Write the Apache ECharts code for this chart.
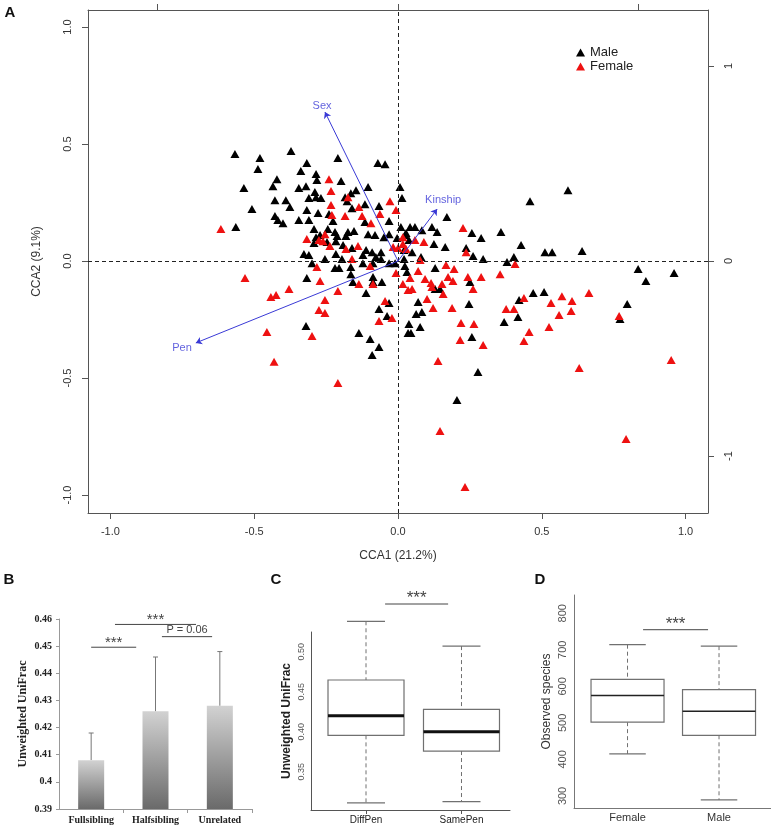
<!DOCTYPE html>
<html><head><meta charset="utf-8">
<script src="https://cdn.jsdelivr.net/npm/echarts@6/dist/echarts.min.js"></script>
<style>html,body{margin:0;padding:0;background:#fff}#c{width:771px;height:830px}</style>
</head><body><div id="c"></div>
<script>
// ---------- Panel A data ----------
const malePoints = [
[-0.567,0.457],[-0.480,0.440],[-0.372,0.470],[-0.487,0.393],[-0.317,0.419],[-0.209,0.440],[-0.070,0.419],[-0.045,0.414],[-0.338,0.385],[-0.285,0.372],
[-0.421,0.350],[-0.282,0.346],[-0.198,0.342],[-0.536,0.312],[-0.435,0.320],[-0.345,0.312],[-0.320,0.320],[-0.289,0.295],[-0.104,0.316],[0.007,0.316],
[-0.164,0.290],[-0.146,0.303],[-0.428,0.260],[-0.390,0.260],[-0.310,0.269],[-0.285,0.273],[-0.268,0.269],[-0.184,0.273],[-0.177,0.256],[0.014,0.269],
[-0.376,0.231],[-0.508,0.222],[-0.317,0.218],[-0.278,0.205],[-0.160,0.226],[-0.115,0.243],[-0.066,0.235],[-0.428,0.192],[-0.418,0.175],[-0.400,0.162],
[-0.345,0.175],[-0.310,0.175],[-0.240,0.201],[-0.226,0.171],[-0.115,0.167],[-0.031,0.171],[-0.564,0.145],[-0.292,0.137],[-0.244,0.137],[-0.219,0.124],
[-0.174,0.124],[-0.153,0.128],[-0.104,0.115],[-0.080,0.111],[0.010,0.145],[-0.285,0.102],[-0.271,0.111],[-0.212,0.107],[-0.181,0.107],[-0.049,0.102],
[-0.292,0.077],[-0.247,0.081],[-0.216,0.085],[-0.191,0.068],[-0.160,0.056],[-0.090,0.038],[-0.059,0.038],[-0.111,0.047],[-0.327,0.030],[-0.310,0.026],
[-0.254,0.009],[-0.216,0.030],[-0.195,0.009],[-0.122,0.026],[-0.077,0.017],[-0.059,0.009],[0.021,0.009],
[-0.299,-0.009],[-0.219,-0.030],[-0.205,-0.030],[-0.164,-0.026],[-0.164,-0.056],[-0.122,-0.009],[-0.087,-0.009],[-0.031,-0.009],[-0.010,-0.009],[0.024,-0.021],
[-0.317,-0.073],[-0.157,-0.090],[-0.087,-0.068],[-0.087,-0.090],[-0.056,-0.090],[-0.111,-0.137],[-0.031,-0.179],[-0.066,-0.205],[-0.038,-0.235],[-0.320,-0.278],
[-0.136,-0.308],[-0.097,-0.333],[-0.066,-0.367],[-0.090,-0.402],[0.035,-0.308],
[0.591,0.303],[0.459,0.256],[0.170,0.188],[0.118,0.145],[0.136,0.124],[0.042,0.145],[0.059,0.145],[0.083,0.132],[0.028,0.120],[0.257,0.120],
[0.289,0.098],[0.358,0.124],[0.125,0.073],[0.164,0.060],[0.038,0.090],[0.237,0.056],[0.261,0.021],[0.428,0.068],[0.511,0.038],[0.536,0.038],
[0.640,0.043],[0.049,0.038],[0.021,0.047],[0.080,0.017],[0.296,0.009],[0.379,-0.004],[0.403,0.017],[0.129,-0.030],
[0.031,-0.047],[0.250,-0.090],[0.129,-0.120],[0.146,-0.120],[0.070,-0.175],[0.247,-0.184],[0.063,-0.226],[0.083,-0.218],[0.038,-0.269],[0.077,-0.282],
[0.045,-0.308],[0.257,-0.325],[0.278,-0.474],[0.421,-0.167],[0.470,-0.137],[0.508,-0.132],[0.369,-0.261],[0.417,-0.239],
[0.835,-0.034],[0.960,-0.051],[0.862,-0.085],[0.797,-0.184],[0.772,-0.248],[0.205,-0.594],
[-0.031,0.115],[-0.003,0.098],[0.024,0.111]
];
const femalePoints = [
[-0.616,0.137],[-0.240,0.350],[-0.233,0.299],[-0.233,0.239],[-0.230,0.197],[-0.184,0.192],[-0.136,0.231],[-0.125,0.192],[-0.094,0.162],[-0.063,0.201],
[-0.028,0.256],[-0.007,0.218],[-0.317,0.094],[-0.275,0.090],[-0.261,0.085],[-0.237,0.064],[-0.181,0.051],[-0.139,0.064],[-0.254,0.115],[0.017,0.102],
[-0.017,0.060],[0.000,0.056],[0.028,0.051],[-0.160,0.009],[-0.174,0.273],[-0.097,-0.021],[-0.282,-0.026],
[-0.532,-0.073],[-0.271,-0.085],[-0.379,-0.120],[-0.442,-0.154],[-0.424,-0.145],[-0.209,-0.128],[-0.136,-0.098],[-0.087,-0.098],[-0.254,-0.167],[-0.275,-0.209],
[-0.254,-0.222],[-0.456,-0.303],[-0.299,-0.320],[-0.431,-0.431],[-0.209,-0.521],[-0.007,-0.051],[-0.045,-0.171],[-0.066,-0.256],[-0.021,-0.244],[0.017,-0.098],
[0.226,0.141],[0.059,0.090],[0.090,0.081],[0.017,0.073],[0.237,0.038],[0.167,-0.017],[0.407,-0.013],[0.077,0.004],[0.195,-0.034],
[0.070,-0.043],[0.042,-0.073],[0.094,-0.077],[0.115,-0.094],[0.118,-0.111],[0.153,-0.098],[0.174,-0.068],[0.191,-0.085],[0.243,-0.068],[0.289,-0.068],
[0.355,-0.056],[0.035,-0.124],[0.049,-0.120],[0.157,-0.141],[0.261,-0.120],[0.101,-0.162],[0.122,-0.201],[0.188,-0.201],[0.438,-0.158],[0.376,-0.205],
[0.403,-0.205],[0.219,-0.265],[0.264,-0.269],[0.216,-0.338],[0.296,-0.359],[0.139,-0.427],[0.456,-0.303],[0.438,-0.342],[0.525,-0.282],[0.532,-0.179],
[0.570,-0.150],[0.605,-0.171],[0.560,-0.231],[0.602,-0.214],[0.664,-0.137],[0.630,-0.457],[0.769,-0.235],[0.950,-0.423],[0.793,-0.761],[0.146,-0.726],[0.233,-0.966]
];
const biplotNames = ['Sex', 'Kinship', 'Pen'];
const biplotTips = [[-0.254, 0.637], [0.136, 0.222], [-0.703, -0.350]];
const biplotLabelPos = [[-0.264, 0.664], [0.157, 0.262], [-0.751, -0.372]];
const ticksA = [-1, -0.5, 0, 0.5, 1];
const ticksSecondary = [-1, 0, 1];

// ---------- Panel B data ----------
const bCategories = ['Fullsibling', 'Halfsibling', 'Unrelated'];
const bMeans = [0.408, 0.426, 0.428];
const bUpper = [0.418, 0.446, 0.448];
const bTicks = [0.39, 0.40, 0.41, 0.42, 0.43, 0.44, 0.45, 0.46];
const bSigLines = [[1.0, 1.70, 0.4496], [1.37, 2.63, 0.4580], [2.10, 2.88, 0.4535]];
const bSigLabels = ['***', '***', 'P = 0.06'];

// ---------- Panel C data ----------
const cCategories = ['DiffPen', 'SamePen'];
const cBoxes = [[0.311, 0.3954, 0.420, 0.4646, 0.538], [0.3125, 0.3758, 0.400, 0.428, 0.507]];
const cTicks = [0.35, 0.40, 0.45, 0.50];
const cSigLines = [[1.20, 1.86, 0.5596]];
const cSigLabels = ['***'];

// ---------- Panel D data ----------
const dCategories = ['Female', 'Male'];
const dBoxes = [[415, 502, 575, 619, 714], [289, 466, 532, 591, 710]];
const dTicks = [300, 400, 500, 600, 700, 800];
const dSigLines = [[1.17, 1.88, 755]];
const dSigLabels = ['***'];

const SANS = 'Liberation Sans, Arial, sans-serif';
const SERIF = 'Liberation Serif, Times New Roman, serif';
const BLUE = '#3a3ad6';

function boxRenderer(boxes, boxW, medW, medColor) {
  return function (params, api) {
    const i = params.dataIndex, b = boxes[i], x = i + 1;
    const p = v => api.coord([x, v]);
    const lo = p(b[0]), q1 = p(b[1]), md = p(b[2]), q3 = p(b[3]), hi = p(b[4]);
    const cx = lo[0], hw = boxW / 2, cw = boxW / 4;
    const st = { stroke: '#707070', lineWidth: 1.2 };
    const dash = { stroke: '#707070', lineWidth: 1, lineDash: [4, 3] };
    return { type: 'group', children: [
      { type: 'line', shape: { x1: cx, y1: hi[1], x2: cx, y2: q3[1] }, style: dash },
      { type: 'line', shape: { x1: cx, y1: q1[1], x2: cx, y2: lo[1] }, style: dash },
      { type: 'line', shape: { x1: cx - cw, y1: hi[1], x2: cx + cw, y2: hi[1] }, style: st },
      { type: 'line', shape: { x1: cx - cw, y1: lo[1], x2: cx + cw, y2: lo[1] }, style: st },
      { type: 'rect', shape: { x: cx - hw, y: q3[1], width: boxW, height: q1[1] - q3[1] }, style: { stroke: '#707070', lineWidth: 1.2, fill: '#fff' } },
      { type: 'line', shape: { x1: cx - hw, y1: md[1], x2: cx + hw, y2: md[1] }, style: { stroke: medColor, lineWidth: medW } }
    ] };
  };
}
function sigRenderer(lines, labels, font) {
  return function (params, api) {
    const l = lines[params.dataIndex];
    const a = api.coord([l[0], l[2]]), b = api.coord([l[1], l[2]]);
    const lab = labels[params.dataIndex];
    const isStar = lab === '***';
    return { type: 'group', children: [
      { type: 'line', shape: { x1: a[0], y1: a[1], x2: b[0], y2: b[1] }, style: { stroke: '#444', lineWidth: 1 } },
      { type: 'text', x: (a[0] + b[0]) / 2, y: a[1] + (isStar ? 3 : -1), style: { text: lab, fill: '#444', font: isStar ? font : '11px ' + SANS, align: 'center', verticalAlign: 'bottom' } }
    ] };
  };
}

const chart = echarts.init(document.getElementById('c'), null, { renderer: 'canvas' });
const lineA = { show: true, onZero: false, lineStyle: { color: '#555', width: 1 } };

const option = {
  animation: false,
  backgroundColor: '#fff',
  textStyle: { fontFamily: SANS },
  legend: {
    data: ['Male', 'Female'], orient: 'vertical', left: 576, top: 46, padding: 0,
    itemWidth: 9, itemHeight: 8, itemGap: 1, icon: 'triangle',
    textStyle: { fontSize: 13, color: '#222', fontFamily: SANS }
  },
  grid: [
    { left: 88, top: 10, width: 620, height: 503 },
    { left: 59, top: 619, width: 193, height: 190 },
    { left: 311, top: 632, width: 199, height: 178 },
    { left: 574, top: 595, width: 197, height: 213 }
  ],
  xAxis: [
    { gridIndex: 0, type: 'value', position: 'bottom', min: -1.078, max: 1.078,
      axisLine: lineA, splitLine: { show: false },
      axisTick: { show: true, length: 6, lineStyle: { color: '#555' }, customValues: ticksA },
      axisLabel: { customValues: ticksA, formatter: v => v.toFixed(1), fontSize: 11, color: '#333', margin: 13 },
      name: 'CCA1 (21.2%)', nameLocation: 'middle', nameGap: 37, nameTextStyle: { fontSize: 12, color: '#333' } },
    { gridIndex: 0, type: 'value', position: 'top', min: -1.29, max: 1.29,
      axisLine: lineA, splitLine: { show: false },
      axisTick: { show: true, length: 6, lineStyle: { color: '#555' }, customValues: ticksSecondary },
      axisLabel: { show: false } },
    { gridIndex: 1, type: 'value', min: 0.5, max: 3.5,
      axisLine: { onZero: false, lineStyle: { color: '#999' } }, splitLine: { show: false },
      axisTick: { show: true, length: 4, lineStyle: { color: '#999' }, customValues: [1.5, 2.5, 3.5] },
      axisLabel: { customValues: [1, 2, 3], formatter: v => bCategories[Math.round(v) - 1], fontFamily: SERIF, fontWeight: 'bold', fontSize: 10, color: '#222', margin: 6 } },
    { gridIndex: 2, type: 'value', min: 0.424, max: 2.508,
      axisLine: { onZero: false, lineStyle: { color: '#555' } }, splitLine: { show: false },
      axisTick: { show: true, length: 4, lineStyle: { color: '#555' }, customValues: [1, 2] },
      axisLabel: { customValues: [1, 2], formatter: v => cCategories[Math.round(v) - 1], fontSize: 10, color: '#222', margin: 5 } },
    { gridIndex: 3, type: 'value', min: 0.415, max: 2.568,
      axisLine: { onZero: false, lineStyle: { color: '#777' } }, splitLine: { show: false },
      axisTick: { show: false },
      axisLabel: { customValues: [1, 2], formatter: v => dCategories[Math.round(v) - 1], fontSize: 11, color: '#333', margin: 4 } }
  ],
  yAxis: [
    { gridIndex: 0, type: 'value', position: 'left', min: -1.077, max: 1.073,
      axisLine: lineA, splitLine: { show: false },
      axisTick: { show: true, length: 6, lineStyle: { color: '#555' }, customValues: ticksA },
      axisLabel: { customValues: ticksA, formatter: v => v.toFixed(1), fontSize: 11, color: '#333', rotate: 90, margin: 15 },
      name: 'CCA2 (9.1%)', nameLocation: 'middle', nameGap: 45, nameRotate: 90, nameTextStyle: { fontSize: 12, color: '#333' } },
    { gridIndex: 0, type: 'value', position: 'right', min: -1.292, max: 1.287,
      axisLine: lineA, splitLine: { show: false },
      axisTick: { show: true, length: 6, lineStyle: { color: '#555' }, customValues: ticksSecondary },
      axisLabel: { customValues: ticksSecondary, formatter: v => String(v), fontSize: 11, color: '#333', rotate: 90, margin: 15 } },
    { gridIndex: 1, type: 'value', min: 0.39, max: 0.46,
      axisLine: { show: true, onZero: false, lineStyle: { color: '#999' } }, splitLine: { show: false },
      axisTick: { show: true, length: 3, lineStyle: { color: '#999' }, customValues: bTicks },
      axisLabel: { customValues: bTicks, formatter: v => String(+v.toFixed(2)), fontFamily: SERIF, fontWeight: 'bold', fontSize: 10, color: '#222', margin: 7 },
      name: 'Unweighted UniFrac', nameLocation: 'middle', nameGap: 30, nameRotate: 90,
      nameTextStyle: { fontFamily: SERIF, fontWeight: 'bold', fontSize: 12, color: '#222' } },
    { gridIndex: 2, type: 'value', min: 0.3021, max: 0.5246,
      axisLine: { show: true, onZero: false, lineStyle: { color: '#555' } }, splitLine: { show: false },
      axisTick: { show: false },
      axisLabel: { customValues: cTicks, formatter: v => v.toFixed(2), fontSize: 9, color: '#555', rotate: 90, margin: 5 },
      name: 'Unweighted UniFrac', nameLocation: 'middle', nameGap: 18, nameRotate: 90,
      nameTextStyle: { fontWeight: 'bold', fontSize: 12, color: '#222' } },
    { gridIndex: 3, type: 'value', min: 267, max: 850,
      axisLine: { show: true, onZero: false, lineStyle: { color: '#777' } }, splitLine: { show: false },
      axisTick: { show: false },
      axisLabel: { customValues: dTicks, formatter: v => String(v), fontSize: 11, color: '#555', rotate: 90, margin: 6 },
      name: 'Observed species', nameLocation: 'middle', nameGap: 21, nameRotate: 90,
      nameTextStyle: { fontSize: 12, color: '#333' } }
  ],
  series: [
    { name: 'Male', type: 'scatter', xAxisIndex: 0, yAxisIndex: 0, data: malePoints,
      symbol: 'triangle', symbolSize: [9, 8], itemStyle: { color: '#000', opacity: 1 },
      markLine: { silent: true, symbol: ['none', 'none'], label: { show: false },
        lineStyle: { type: [4, 3], color: '#222', width: 1 },
        data: [{ xAxis: 0 }, { yAxis: 0 }] } },
    { name: 'Female', type: 'scatter', xAxisIndex: 0, yAxisIndex: 0, data: femalePoints,
      symbol: 'triangle', symbolSize: [9, 8], itemStyle: { color: '#ee1111', opacity: 1 } },
    { name: 'biplot', type: 'lines', coordinateSystem: 'cartesian2d', xAxisIndex: 0, yAxisIndex: 0,
      data: biplotTips.map(t => ({ coords: [[0, 0], t] })),
      symbol: ['none', 'arrow'], symbolSize: 6,
      lineStyle: { color: BLUE, width: 1, opacity: 1, curveness: 0 }, z: 5 },
    { name: 'biplotLabels', type: 'scatter', xAxisIndex: 0, yAxisIndex: 0,
      data: biplotNames.map((n, i) => ({ name: n, value: biplotLabelPos[i] })),
      symbol: 'circle', symbolSize: 1, itemStyle: { color: 'rgba(0,0,0,0)' },
      label: { show: true, position: 'inside', formatter: p => p.name, color: BLUE, fontSize: 11 }, z: 6 },
    { name: 'bBars', type: 'bar', xAxisIndex: 2, yAxisIndex: 2,
      data: bMeans.map((m, i) => [i + 1, m]), barWidth: 26,
      itemStyle: { color: { type: 'linear', x: 0, y: 0, x2: 0, y2: 1,
        colorStops: [{ offset: 0, color: '#d2d2d2' }, { offset: 1, color: '#6a6a6a' }] } } },
    { name: 'bErr', type: 'custom', xAxisIndex: 2, yAxisIndex: 2,
      data: bMeans.map((m, i) => [i + 1, m, bUpper[i]]),
      renderItem: function (params, api) {
        const a = api.coord([api.value(0), api.value(1)]);
        const b = api.coord([api.value(0), api.value(2)]);
        const st = { stroke: '#777', lineWidth: 1 };
        return { type: 'group', children: [
          { type: 'line', shape: { x1: a[0], y1: a[1], x2: b[0], y2: b[1] }, style: st },
          { type: 'line', shape: { x1: b[0] - 2.5, y1: b[1], x2: b[0] + 2.5, y2: b[1] }, style: st }
        ] };
      } },
    { name: 'bSig', type: 'custom', xAxisIndex: 2, yAxisIndex: 2,
      data: bSigLines.map(l => [l[0], l[2]]),
      renderItem: sigRenderer(bSigLines, bSigLabels, '15px ' + SANS) },
    { name: 'cBox', type: 'custom', xAxisIndex: 3, yAxisIndex: 3,
      data: cBoxes.map((b, i) => [i + 1, b[2]]),
      renderItem: boxRenderer(cBoxes, 76, 3, '#111') },
    { name: 'cSig', type: 'custom', xAxisIndex: 3, yAxisIndex: 3,
      data: cSigLines.map(l => [l[0], l[2]]),
      renderItem: sigRenderer(cSigLines, cSigLabels, '17px ' + SANS) },
    { name: 'dBox', type: 'custom', xAxisIndex: 4, yAxisIndex: 4,
      data: dBoxes.map((b, i) => [i + 1, b[2]]),
      renderItem: boxRenderer(dBoxes, 73, 1.6, '#222') },
    { name: 'dSig', type: 'custom', xAxisIndex: 4, yAxisIndex: 4,
      data: dSigLines.map(l => [l[0], l[2]]),
      renderItem: sigRenderer(dSigLines, dSigLabels, '17px ' + SANS) }
  ],
  graphic: [
    { type: 'text', x: 10, y: 13, style: { text: 'A', font: 'bold 15px ' + SANS, fill: '#111', align: 'center', verticalAlign: 'middle' } },
    { type: 'text', x: 9, y: 580, style: { text: 'B', font: 'bold 15px ' + SANS, fill: '#111', align: 'center', verticalAlign: 'middle' } },
    { type: 'text', x: 276, y: 580, style: { text: 'C', font: 'bold 15px ' + SANS, fill: '#111', align: 'center', verticalAlign: 'middle' } },
    { type: 'text', x: 540, y: 580, style: { text: 'D', font: 'bold 15px ' + SANS, fill: '#111', align: 'center', verticalAlign: 'middle' } }
  ]
};
chart.setOption(option);
</script></body></html>
